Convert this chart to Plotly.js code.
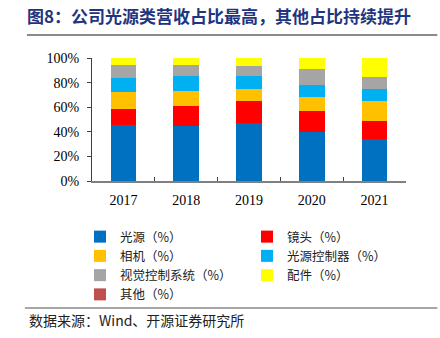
<!DOCTYPE html>
<html>
<head>
<meta charset="utf-8">
<script src="https://cdn.plot.ly/plotly-3.0.1.min.js"></script>
<style>html,body{margin:0;padding:0;background:#fff;}#chart{width:440px;height:338px;}</style>
</head>
<body>
<div id="chart"></div>
<script>
var years = ['2017', '2018', '2019', '2020', '2021'];
var seriesNames = ['光源（%）', '镜头（%）', '相机（%）', '光源控制器（%）', '视觉控制系统（%）', '配件（%）', '其他（%）'];
var lightSource = [45.3, 44.7, 46.9, 40.1, 34.1];
var lens = [13.2, 16.5, 18.4, 16.8, 14.7];
var camera = [13.6, 12.0, 9.5, 11.6, 16.5];
var lightController = [11.6, 12.4, 10.6, 9.8, 9.3];
var visionSystem = [10.6, 8.7, 8.1, 12.5, 10.2];
var accessories = [5.7, 5.7, 6.5, 9.2, 15.2];
var others = [0, 0, 0, 0, 0];
var yTickVals = [0, 20, 40, 60, 80, 100];
var yTickText = ['0%', '20%', '40%', '60%', '80%', '100%'];

var seriesValues = [lightSource, lens, camera, lightController, visionSystem, accessories, others];
var colors = ['#0070C0', '#FF0000', '#FFC000', '#00B0F0', '#A5A5A5', '#FFFF00', '#C0504D'];

var traces = seriesValues.map(function (vals, i) {
  return {
    type: 'bar',
    name: seriesNames[i],
    x: years,
    y: vals,
    marker: {color: colors[i], line: {width: 0}},
    hoverinfo: 'skip'
  };
});

// plot area in px: left 92, right 405.7, top 58, bottom 181
var L = 92, R = 405.7, T = 58, B = 181;
function px(x) { return (x - L) / (R - L); }
function py(y) { return (B - y) / (B - T); }

var layout = {
  width: 440,
  height: 338,
  margin: {l: L, r: 440 - R, t: T, b: 338 - B},
  paper_bgcolor: '#ffffff',
  plot_bgcolor: '#ffffff',
  barmode: 'stack',
  bargap: 0.59,
  showlegend: true,
  title: {
    text: '图8：公司光源类营收占比最高，其他占比持续提升',
    x: 27 / 440,
    xanchor: 'left',
    xref: 'container',
    y: 1 - 17 / 338,
    yanchor: 'middle',
    yref: 'container',
    font: {family: '"Noto Sans CJK SC", sans-serif', size: 17, color: '#1f3580', weight: 'bold'}
  },
  xaxis: {
    type: 'category',
    showgrid: false,
    zeroline: false,
    showline: true,
    linecolor: '#808080',
    linewidth: 1.5,
    ticks: 'inside',
    tickson: 'boundaries',
    ticklen: 4,
    tickcolor: '#404040',
    tickwidth: 1,
    ticklabelstandoff: 6,
    tickfont: {family: '"Liberation Serif", serif', size: 14, color: '#000'},
    fixedrange: true
  },
  yaxis: {
    range: [0, 100],
    tickvals: yTickVals,
    ticktext: yTickText,
    showgrid: false,
    zeroline: false,
    showline: true,
    linecolor: '#404040',
    linewidth: 1,
    ticks: 'outside',
    ticklen: 4,
    tickcolor: '#404040',
    ticklabelstandoff: 5,
    tickfont: {family: '"Liberation Serif", serif', size: 14, color: '#000'},
    fixedrange: true
  },
  legend: {
    orientation: 'h',
    x: px(80),
    xanchor: 'left',
    y: py(222),
    yanchor: 'top',
    entrywidth: 122,
    entrywidthmode: 'pixels',
    traceorder: 'normal',
    font: {family: '"Noto Sans CJK SC", sans-serif', size: 12.5, color: '#222'},
    bgcolor: 'rgba(0,0,0,0)'
  },
  shapes: [
    {type: 'line', xref: 'paper', yref: 'paper', x0: px(27), x1: px(437), y0: py(35), y1: py(35),
     line: {color: '#8a8a8a', width: 2}},
    {type: 'line', xref: 'paper', yref: 'paper', x0: px(25), x1: px(437), y0: py(308), y1: py(308),
     line: {color: '#8a8a8a', width: 1.5}}
  ],
  annotations: [
    {text: '数据来源：Wind、开源证券研究所', xref: 'paper', yref: 'paper', x: px(27), y: py(320),
     xanchor: 'left', yanchor: 'middle', showarrow: false,
     font: {family: '"Noto Sans CJK SC", sans-serif', size: 14, color: '#222'}}
  ]
};

Plotly.newPlot('chart', traces, layout, {displayModeBar: false, staticPlot: true});
</script>
</body>
</html>
